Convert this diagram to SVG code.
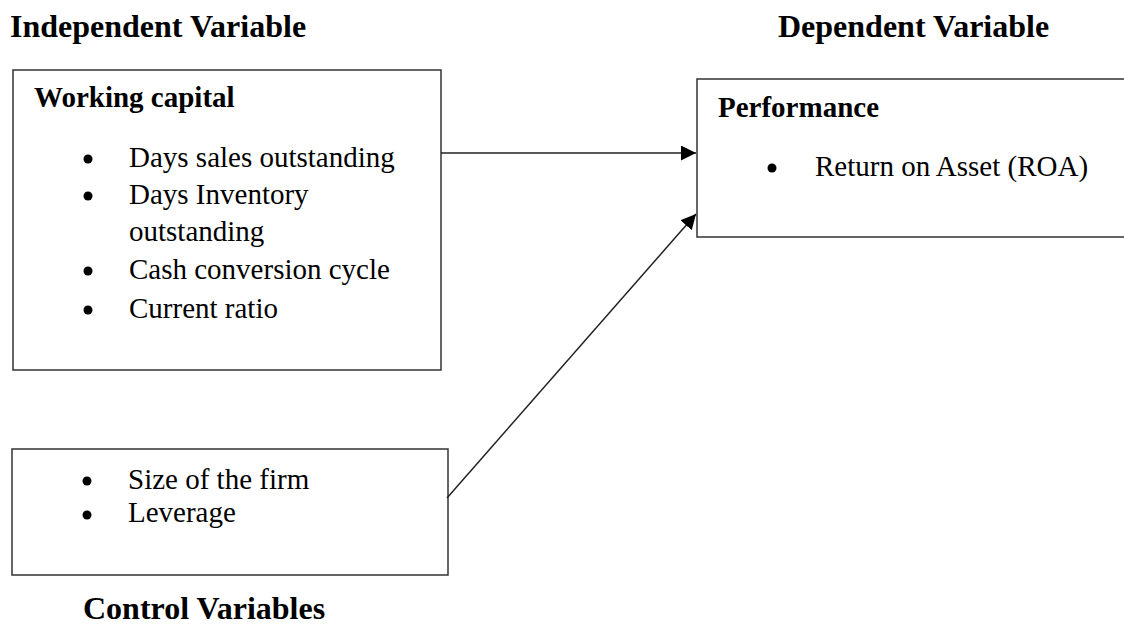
<svg xmlns="http://www.w3.org/2000/svg" width="1124" height="629" viewBox="0 0 1124 629">
<style>
.box{fill:#fff;stroke:#333;stroke-width:1.5}
.h{font-family:"Liberation Serif","Times New Roman",serif;font-weight:bold;font-size:32px;fill:#000}
.t{font-family:"Liberation Serif","Times New Roman",serif;font-size:29px;fill:#000}
.tb{font-family:"Liberation Serif","Times New Roman",serif;font-weight:bold;font-size:29px;fill:#000}
.conn{stroke:#222;stroke-width:1.5;fill:none}
</style>
<defs>
<marker id="ah" markerWidth="15" markerHeight="15" refX="15" refY="7.5" orient="auto" markerUnits="userSpaceOnUse">
<path d="M0,0 L15,7.5 L0,15 Z" fill="#000"/>
</marker>
</defs>
<rect width="1124" height="629" fill="#fff"/>
<text class="h" x="10" y="37">Independent Variable</text>
<text class="h" x="778" y="37">Dependent Variable</text>
<g id="working-capital">
<rect class="box" x="13" y="70" width="428" height="300"/>
<text class="tb" x="34" y="107">Working capital</text>
<circle cx="88" cy="159" r="4.5"/>
<text class="t" x="129" y="167">Days sales outstanding</text>
<circle cx="88" cy="196" r="4.5"/>
<text class="t" x="129" y="204">Days Inventory</text>
<text class="t" x="129" y="241">outstanding</text>
<circle cx="88" cy="271" r="4.5"/>
<text class="t" x="129" y="279">Cash conversion cycle</text>
<circle cx="88" cy="310" r="4.5"/>
<text class="t" x="129" y="318">Current ratio</text>
</g>
<g id="performance">
<rect class="box" x="697" y="79" width="440" height="158"/>
<text class="tb" x="718" y="117">Performance</text>
<circle cx="772" cy="168" r="4.5"/>
<text class="t" x="815" y="176">Return on Asset (ROA)</text>
</g>
<g id="control">
<rect class="box" x="12" y="449" width="436" height="126"/>
<circle cx="87" cy="481" r="4.5"/>
<text class="t" x="128" y="489">Size of the firm</text>
<circle cx="87" cy="515" r="4.5"/>
<text class="t" x="128" y="522">Leverage</text>
</g>
<text class="h" x="83" y="619">Control Variables</text>
<g id="connectors">
<line class="conn" x1="441" y1="153" x2="696" y2="153" marker-end="url(#ah)"/>
<line class="conn" x1="447" y1="498" x2="696" y2="214" marker-end="url(#ah)"/>
</g>
</svg>
